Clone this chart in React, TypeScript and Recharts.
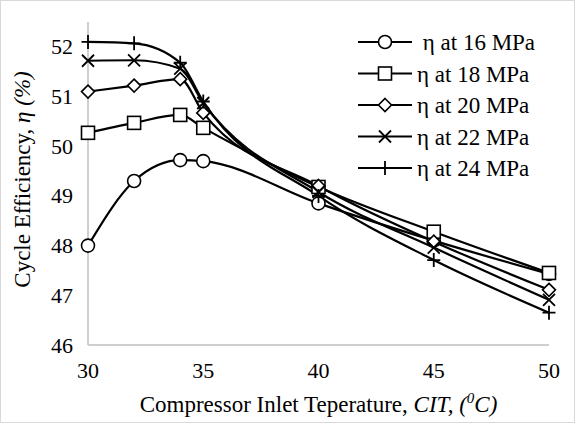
import { LineChart, Line, XAxis, YAxis, Legend } from "recharts";

const cit = [30, 32, 34, 35, 40, 45, 50];
const eta16 = [48.0, 49.3, 49.72, 49.7, 48.85, 48.1, 47.43];
const eta18 = [50.27, 50.47, 50.63, 50.37, 49.18, 48.28, 47.45];
const eta20 = [51.1, 51.22, 51.35, 50.67, 49.2, 48.08, 47.11];
const eta22 = [51.72, 51.73, 51.56, 50.87, 49.08, 47.96, 46.91];
const eta24 = [52.1, 52.07, 51.68, 50.9, 49.0, 47.71, 46.65];
const xTicks = [30, 35, 40, 45, 50];
const yTicks = [46, 47, 48, 49, 50, 51, 52];

const data = cit.map((t, i) => ({
  cit: t,
  p16: eta16[i],
  p18: eta18[i],
  p20: eta20[i],
  p22: eta22[i],
  p24: eta24[i],
}));

type ShapeKind = "circle" | "square" | "diamond" | "x" | "plus";

const series: { key: string; name: string; shape: ShapeKind }[] = [
  { key: "p16", name: " η at 16 MPa", shape: "circle" },
  { key: "p18", name: "η at 18 MPa", shape: "square" },
  { key: "p20", name: "η at 20 MPa", shape: "diamond" },
  { key: "p22", name: "η at 22 MPa", shape: "x" },
  { key: "p24", name: "η at 24 MPa", shape: "plus" },
];

const FONT = "'Liberation Serif', 'Times New Roman', serif";

function Marker({ cx, cy, shape }: { cx: number; cy: number; shape: ShapeKind }) {
  const s = { stroke: "#000", strokeWidth: 1.6, fill: "#fff" };
  switch (shape) {
    case "circle":
      return <circle cx={cx} cy={cy} r={6.5} {...s} />;
    case "square":
      return <rect x={cx - 6.5} y={cy - 6.5} width={13} height={13} {...s} />;
    case "diamond":
      return (
        <polygon
          points={`${cx},${cy - 6.5} ${cx + 6.5},${cy} ${cx},${cy + 6.5} ${cx - 6.5},${cy}`}
          {...s}
        />
      );
    case "x":
      return (
        <path
          d={`M${cx - 6},${cy - 6}L${cx + 6},${cy + 6}M${cx + 6},${cy - 6}L${cx - 6},${cy + 6}`}
          stroke="#000"
          strokeWidth={1.8}
        />
      );
    default:
      return (
        <path
          d={`M${cx - 6.5},${cy}L${cx + 6.5},${cy}M${cx},${cy - 7}L${cx},${cy + 7}`}
          stroke="#000"
          strokeWidth={1.8}
        />
      );
  }
}

function LegendBox() {
  return (
    <svg width={220} height={160} style={{ display: "block" }}>
      {series.map((s, i) => {
        const y = 12 + i * 31.5;
        return (
          <g key={s.key}>
            <line x1={8} x2={62} y1={y} y2={y} stroke="#000" strokeWidth={2.2} />
            <Marker cx={35} cy={y} shape={s.shape} />
            <text x={67} y={y + 8} fill="#000" fontSize={23} style={{ whiteSpace: "pre" }}>
              {s.name}
            </text>
          </g>
        );
      })}
    </svg>
  );
}

function XTick(props: any) {
  const { x, y, payload } = props;
  return (
    <text x={x} y={y + 15} textAnchor="middle" fill="#000" fontSize={22}>
      {payload.value}
    </text>
  );
}

function YTick(props: any) {
  const { x, y, payload } = props;
  return (
    <text x={x} y={y + 7.5} textAnchor="end" fill="#000" fontSize={22}>
      {payload.value}
    </text>
  );
}

function XLabel(props: any) {
  const vb = props.viewBox || {};
  const cx = vb.x + vb.width / 2;
  return (
    <text x={cx} y={vb.y + 67} textAnchor="middle" fill="#000" fontSize={23}>
      <tspan>Compressor Inlet Teperature, </tspan>
      <tspan fontStyle="italic">CIT, (</tspan>
      <tspan fontStyle="italic" fontSize={15} dy={-9}>0</tspan>
      <tspan fontStyle="italic" dy={9}>C)</tspan>
    </text>
  );
}

function YLabel(props: any) {
  const vb = props.viewBox || {};
  const cy = vb.y + vb.height / 2 - 4;
  const x = 22;
  return (
    <text
      x={x}
      y={cy}
      textAnchor="middle"
      fill="#000"
      fontSize={23}
      transform={`rotate(-90 ${x} ${cy})`}
      dominantBaseline="central"
    >
      <tspan>Cycle Efficiency, </tspan>
      <tspan fontStyle="italic">η (%)</tspan>
    </text>
  );
}

export default function App() {
  return (
    <div
      className="cit-chart"
      style={{
        position: "absolute",
        left: 0,
        top: 0,
        width: 575,
        height: 423,
        background: "#fff",
      }}
    >
      <style>{`.cit-chart text { font-family: ${FONT}; }`}</style>
      <LineChart
        width={575}
        height={423}
        data={data}
        margin={{ top: 22, right: 26, bottom: 48, left: 48 }}
      >
        <XAxis
          dataKey="cit"
          type="number"
          domain={[30, 50]}
          ticks={xTicks}
          height={30}
          stroke="#bfbfbf"
          strokeWidth={1.5}
          tickLine={false}
          tickSize={6}
          tickMargin={12}
          tick={<XTick />}
          label={<XLabel />}
        />
        <YAxis
          type="number"
          domain={[46, 52.5]}
          ticks={yTicks}
          width={40}
          stroke="#bfbfbf"
          strokeWidth={1.5}
          tickLine={false}
          tickSize={6}
          tickMargin={9}
          tick={<YTick />}
          label={<YLabel />}
        />
        <Legend
          layout="vertical"
          align="center"
          verticalAlign="middle"
          wrapperStyle={{ position: "absolute", left: 350, top: 30, width: 220 }}
          content={() => <LegendBox />}
        />
        {series.map((s) => (
          <Line
            key={s.key}
            dataKey={s.key}
            name={s.name}
            type="monotone"
            stroke="#000"
            strokeWidth={2.2}
            isAnimationActive={false}
            dot={(p: any) => <Marker key={`${s.key}-${p.index}`} cx={p.cx} cy={p.cy} shape={s.shape} />}
            activeDot={false}
          />
        ))}
      </LineChart>
      <div
        style={{
          position: "absolute",
          left: 0,
          top: 0,
          width: 573,
          height: 421,
          border: "1px solid #d9d9d9",
          pointerEvents: "none",
        }}
      />
    </div>
  );
}
